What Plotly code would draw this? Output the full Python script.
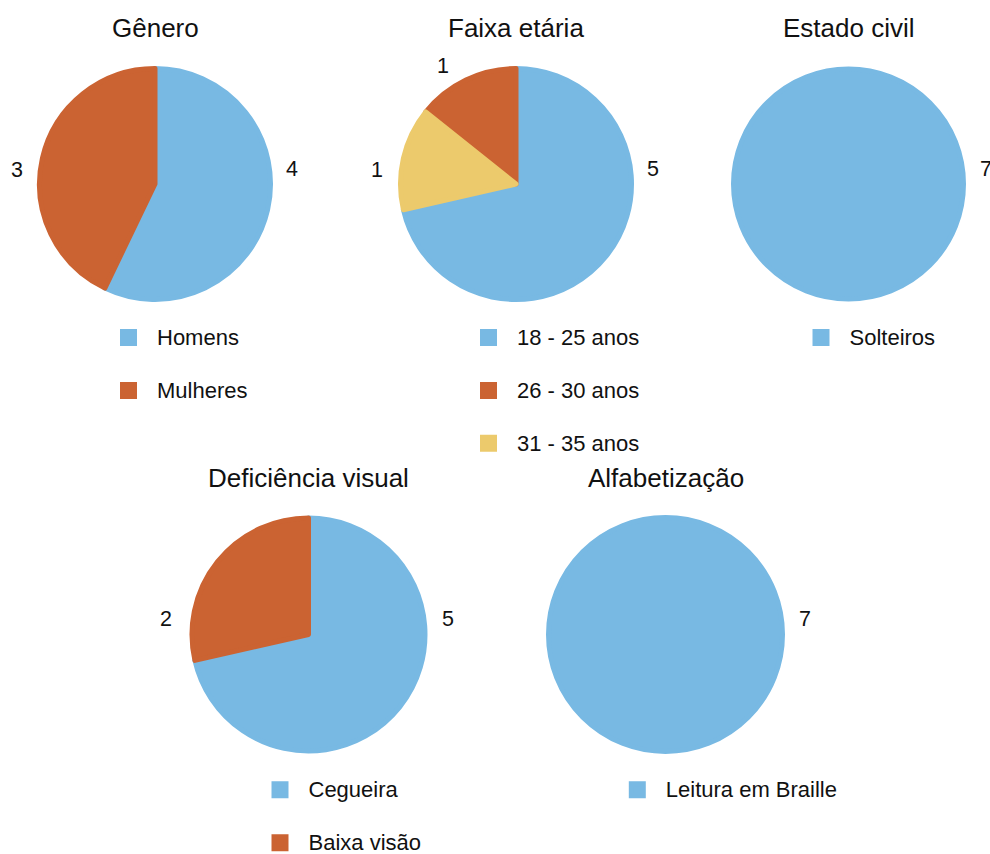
import plotly.graph_objects as go

FIG_W, FIG_H = 990, 854
FONT = "Liberation Sans, Arial, Helvetica, sans-serif"
INK = "#111111"

BLUE = "#78B9E3"
ORANGE = "#CB6332"
YELLOW = "#ECCA6C"

# ---- data ----
genero_cats = ["Homens", "Mulheres"]
genero_vals = [4, 3]

faixa_cats = ["18 - 25 anos", "26 - 30 anos", "31 - 35 anos"]
faixa_vals = [5, 1, 1]

civil_cats = ["Solteiros"]
civil_vals = [7]

deficiencia_cats = ["Cegueira", "Baixa visão"]
deficiencia_vals = [5, 2]

alfabetizacao_cats = ["Leitura em Braille"]
alfabetizacao_vals = [7]

# ---- layout of each panel (pixel positions on the page) ----
panels = [
    dict(title="Gênero", cats=genero_cats, vals=genero_vals,
         colors=[BLUE, ORANGE], center=(155, 184), radius=118,
         title_y=28.5, legend_at=(100, 318.5),
         value_offsets=[(137, -15), (-138, -14)]),
    dict(title="Faixa etária", cats=faixa_cats, vals=faixa_vals,
         colors=[BLUE, ORANGE, YELLOW], center=(516, 184), radius=118,
         title_y=28.5, legend_at=(460, 318.5),
         value_offsets=[(137, -15), (-73, -118.5), (-139, -14)]),
    dict(title="Estado civil", cats=civil_cats, vals=civil_vals,
         colors=[BLUE], center=(848.5, 184), radius=117.5,
         title_y=28.5, legend_at=(792.5, 318.5),
         value_offsets=[(137, -15)]),
    dict(title="Deficiência visual", cats=deficiencia_cats, vals=deficiencia_vals,
         colors=[BLUE, ORANGE], center=(308.5, 634.5), radius=119,
         title_y=478, legend_at=(251.5, 770.8),
         value_offsets=[(139, -16), (-143, -16)]),
    dict(title="Alfabetização", cats=alfabetizacao_cats, vals=alfabetizacao_vals,
         colors=[BLUE], center=(665.5, 634.5), radius=119.5,
         title_y=478, legend_at=(608.8, 770.8),
         value_offsets=[(139, -16)]),
]

EDGE = 5  # slice outline width (same colour as the slice)


def px_x(x):
    return x / FIG_W


def px_y(y):
    return 1 - y / FIG_H


fig = go.Figure()
annotations = []
legends = {}

for i, p in enumerate(panels):
    cx, cy = p["center"]
    r = p["radius"] - EDGE / 2
    legend_id = "legend" if i == 0 else f"legend{i + 1}"

    fig.add_trace(go.Pie(
        labels=[f"<span style='font-size:22px'>{c}</span><br>\u00a0" for c in p["cats"]],
        values=p["vals"],
        marker=dict(colors=p["colors"], line=dict(color=p["colors"], width=EDGE)),
        sort=False,
        direction="counterclockwise",
        rotation=0,
        textinfo="none",
        hoverinfo="label+value",
        domain=dict(x=[px_x(cx - r), px_x(cx + r)],
                    y=[px_y(cy + r), px_y(cy - r)]),
        legend=legend_id,
        showlegend=True,
    ))

    lx, ly = p["legend_at"]
    legends[legend_id] = dict(
        x=px_x(lx), y=px_y(ly), xanchor="left", yanchor="top",
        bgcolor="rgba(0,0,0,0)", borderwidth=0,
        font=dict(family=FONT, size=19.2, color=INK),
        itemwidth=47, valign="top", traceorder="normal",
    )

    # panel title
    annotations.append(dict(
        text=p["title"], x=px_x(cx), y=px_y(p["title_y"]),
        xref="paper", yref="paper", xanchor="center", yanchor="middle",
        showarrow=False, font=dict(family=FONT, size=26, color=INK),
    ))

    # value labels next to the slices
    for v, (dx, dy) in zip(p["vals"], p["value_offsets"]):
        annotations.append(dict(
            text=str(v), x=px_x(cx + dx), y=px_y(cy + dy),
            xref="paper", yref="paper", xanchor="center", yanchor="middle",
            showarrow=False, font=dict(family=FONT, size=21.5, color=INK),
        ))

fig.update_layout(
    width=FIG_W, height=FIG_H,
    margin=dict(l=0, r=0, t=0, b=0, pad=0, autoexpand=False),
    paper_bgcolor="white", plot_bgcolor="white",
    font=dict(family=FONT, color=INK),
    annotations=annotations,
    **legends,
)

fig.write_html("out.html")
